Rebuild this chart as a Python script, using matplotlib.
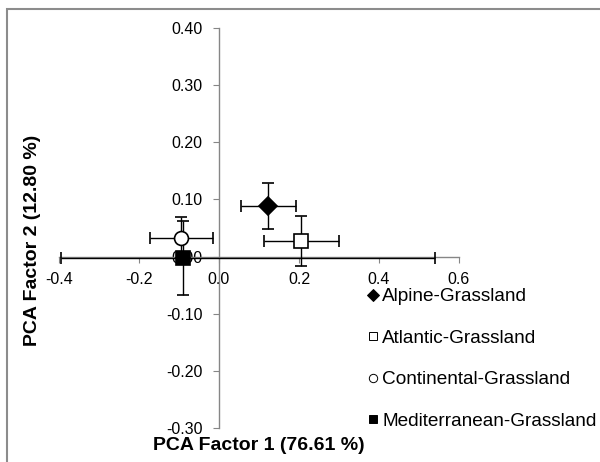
import matplotlib
matplotlib.use("Agg")
import matplotlib.pyplot as plt
from matplotlib.lines import Line2D
from matplotlib.patches import Rectangle

plt.rcParams['font.family'] = ['Liberation Sans', 'DejaVu Sans']

groups = ["Alpine-Grassland", "Atlantic-Grassland", "Continental-Grassland", "Mediterranean-Grassland"]
x_vals = [0.122, 0.206, -0.094, -0.090]
y_vals = [0.089, 0.027, 0.033, -0.002]
xerr_lo = [0.068, 0.094, 0.079, 0.305]
xerr_hi = [0.070, 0.094, 0.079, 0.630]
yerr_lo = [0.040, 0.044, 0.036, 0.065]
yerr_hi = [0.040, 0.044, 0.036, 0.065]
markers = ["D", "s", "o", "s"]
facecolors = ["black", "white", "white", "black"]
msizes = [9, 9.5, 10, 10]

x_ticks = [-0.4, -0.2, 0.0, 0.2, 0.4, 0.6]
y_ticks = [-0.30, -0.20, -0.10, 0.00, 0.10, 0.20, 0.30, 0.40]

fig = plt.figure(figsize=(6, 4.62), dpi=100)
ax = fig.add_axes([59/600, 1-428/462, 400/600, 400/462])
ax.set_xlim(-0.4, 0.6)
ax.set_ylim(-0.30, 0.40)

axis_gray = "#868686"
for s in ["top", "right"]:
    ax.spines[s].set_visible(False)
ax.spines["left"].set_position(("data", 0))
ax.spines["bottom"].set_position(("data", 0))
ax.spines["left"].set_color(axis_gray)
ax.spines["bottom"].set_color(axis_gray)
ax.spines["left"].set_linewidth(1.0)
ax.spines["bottom"].set_linewidth(1.0)

ax.set_xticks(x_ticks)
ax.set_xticklabels([f"{v:.1f}" for v in x_ticks])
ax.set_yticks(y_ticks)
ax.set_yticklabels([f"{v:.2f}" for v in y_ticks])
ax.tick_params(axis="x", direction="out", length=4, color=axis_gray, pad=7, labelsize=11.5)
ax.tick_params(axis="y", direction="out", length=4, color=axis_gray, pad=8, labelsize=11.5)

handles = []
for i, g in enumerate(groups):
    ax.errorbar(x_vals[i], y_vals[i],
                xerr=[[xerr_lo[i]], [xerr_hi[i]]],
                yerr=[[yerr_lo[i]], [yerr_hi[i]]],
                fmt=markers[i], mfc=facecolors[i], mec="black", mew=1.2,
                ms=msizes[i], ecolor="black", elinewidth=1.0, capsize=4,
                capthick=1.0, zorder=3, clip_on=False)
    handles.append(Line2D([], [], linestyle="none", marker=markers[i],
                          mfc=facecolors[i], mec="black", mew=0.7, ms=6, label=g))

ax.legend(handles=handles, loc="upper left", bbox_to_anchor=(368/600, 1-288/462),
          bbox_transform=fig.transFigure, frameon=False, fontsize=13.7,
          handlelength=0.55, handletextpad=0.2, labelspacing=1.27,
          borderpad=0, borderaxespad=0)

fig.text(259/600, 1-446/462, "PCA Factor 1 (76.61 %)", ha="center", va="center",
         fontsize=14, fontweight="bold")
fig.text(33/600, 1-240/462, "PCA Factor 2 (12.80 %)", ha="center", va="center",
         rotation=90, fontsize=14, fontweight="bold")

frame = Rectangle((7/600, -0.1), 1.2, 1-9/462+0.1, transform=fig.transFigure,
                  fill=False, edgecolor="#8c8c8c", linewidth=1.5, clip_on=False)
fig.patches.append(frame)

fig.savefig("out.png", dpi=100)
